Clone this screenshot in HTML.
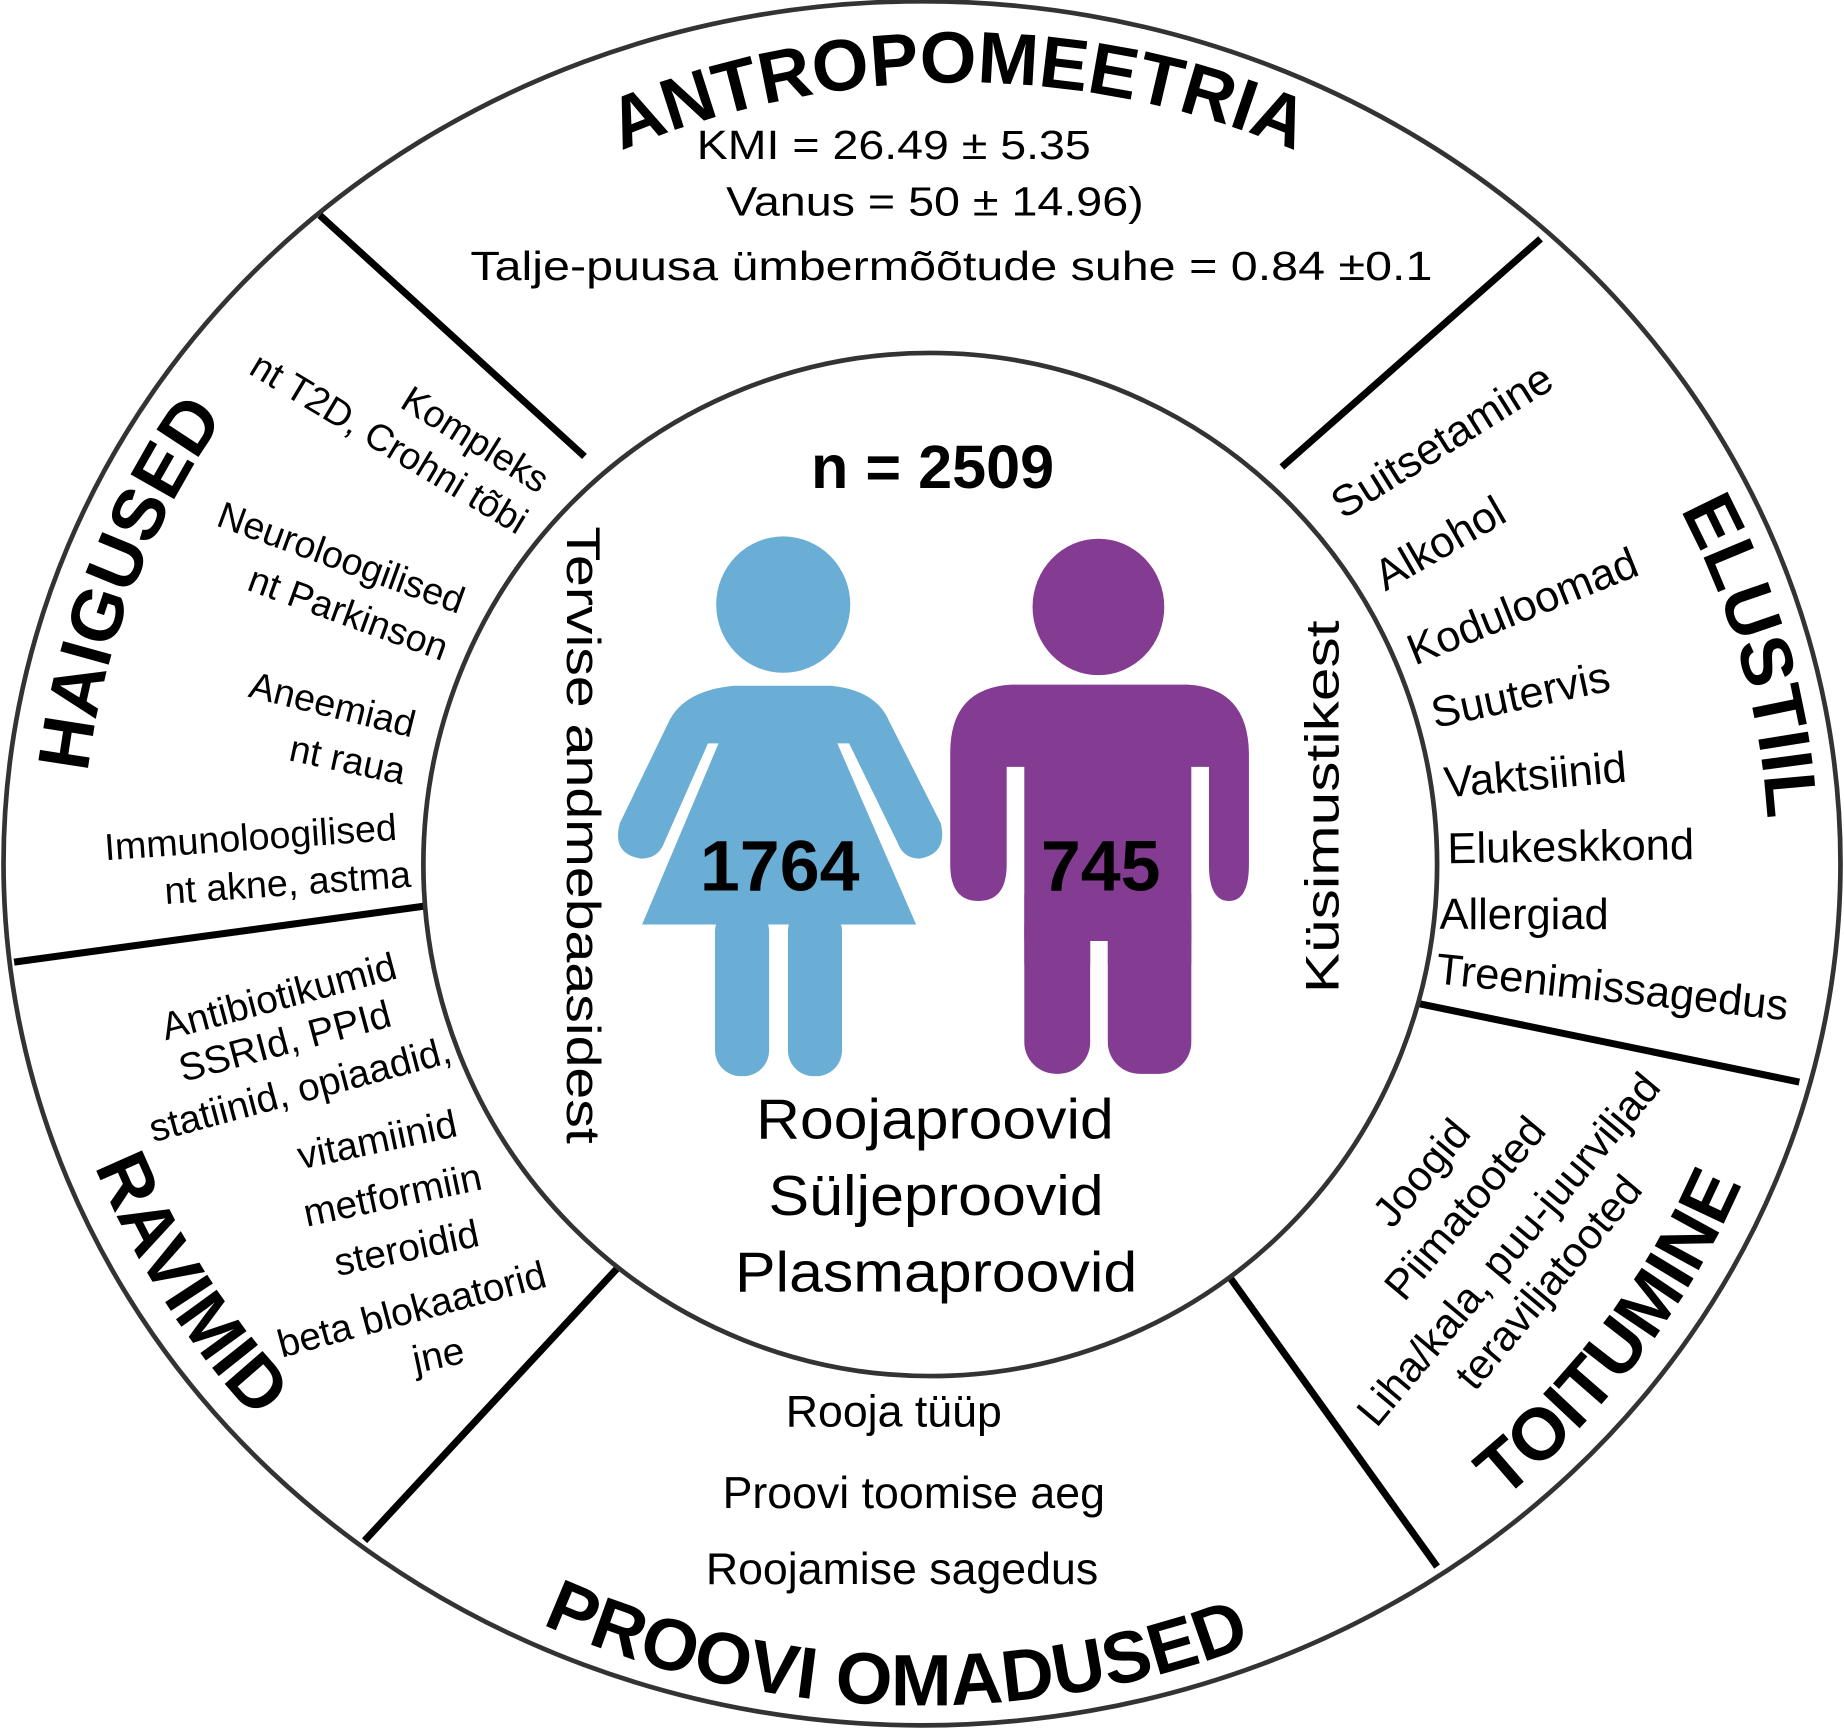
<!DOCTYPE html>
<html><head><meta charset="utf-8"><style>
html,body{margin:0;padding:0;background:#fff;}
svg{display:block;}
text{font-family:"Liberation Sans",Arial,sans-serif;fill:#000;}
.t{font-weight:bold;font-size:62px;}
.h{font-size:32px;}
.e{font-size:37px;}
.r{font-size:33px;}
.f{font-size:36px;}
</style></head><body>
<svg width="1844" height="1729" viewBox="0 0 1568 1470" xmlns="http://www.w3.org/2000/svg">
<defs>
<path id="ptop" d="M115,734 A700,664 0 0 1 1515,734"/>
<path id="pleft" d="M784,1414 A714,680 0 0 1 784,54"/>
<path id="pright" d="M784,59 A720,675 0 0 1 784,1409"/>
<path id="pbot" d="M30,734 A754,716 0 0 0 1538,734"/>
</defs>
<ellipse cx="784" cy="734" rx="781" ry="733" fill="#fff" stroke="#333" stroke-width="4"/>
<g stroke="#000" stroke-width="6">
<line x1="272" y1="183" x2="497" y2="388"/>
<line x1="1310" y1="203" x2="1090" y2="397"/>
<line x1="12" y1="818" x2="364" y2="770"/>
<line x1="1200" y1="852" x2="1530" y2="920"/>
<line x1="310" y1="1310" x2="528" y2="1075"/>
<line x1="1045" y1="1085" x2="1222" y2="1332"/>
</g>
<ellipse cx="791" cy="735" rx="431" ry="435" fill="#fff" stroke="#333" stroke-width="4"/>

<text class="t" font-size="70"><textPath href="#ptop" startOffset="50%" text-anchor="middle">ANTROPOMEETRIA</textPath></text>
<text class="t"><textPath href="#pleft" startOffset="61%" text-anchor="middle">HAIGUSED</textPath></text>
<text class="t"><textPath href="#pright" startOffset="42%" text-anchor="middle">ELUSTIIL</textPath></text>
<text class="t" font-size="60"><textPath href="#pbot" startOffset="49%" text-anchor="middle">PROOVI OMADUSED</textPath></text>
<text class="t" font-size="60"><textPath href="#pbot" startOffset="17%" text-anchor="middle">RAVIMID</textPath></text>
<text class="t" font-size="60"><textPath href="#pbot" startOffset="80.5%" text-anchor="middle">TOITUMINE</textPath></text>

<text x="760" y="135" font-size="35" text-anchor="middle" textLength="335" lengthAdjust="spacingAndGlyphs">KMI = 26.49 ± 5.35</text>
<text x="795" y="183" font-size="35" text-anchor="middle" textLength="355" lengthAdjust="spacingAndGlyphs">Vanus = 50 ± 14.96)</text>
<text x="809" y="238" font-size="35" text-anchor="middle" textLength="818" lengthAdjust="spacingAndGlyphs">Talje-puusa ümbermõõtude suhe = 0.84 ±0.1</text>

<g class="h">
<text transform="translate(458,420) rotate(32)" text-anchor="end">Kompleks</text>
<text transform="translate(440,455) rotate(31)" text-anchor="end">nt T2D, Crohni tõbi</text>
<text transform="translate(390,522) rotate(20)" text-anchor="end">Neuroloogilised</text>
<text transform="translate(376,562) rotate(20)" text-anchor="end">nt Parkinson</text>
<text transform="translate(350,627) rotate(14)" text-anchor="end">Aneemiad</text>
<text transform="translate(342,667) rotate(12)" text-anchor="end">nt raua</text>
<text transform="translate(338,714) rotate(-4)" text-anchor="end">Immunoloogilised</text>
<text transform="translate(350,754) rotate(-4)" text-anchor="end">nt akne, astma</text>
</g>
<g class="r">
<text transform="translate(240,858) rotate(-15)" text-anchor="middle">Antibiotikumid</text>
<text transform="translate(245,896) rotate(-15)" text-anchor="middle">SSRId, PPId</text>
<text transform="translate(258,937) rotate(-15)" text-anchor="middle">statiinid, opiaadid,</text>
<text transform="translate(323,980) rotate(-12)" text-anchor="middle">vitamiinid</text>
<text transform="translate(336,1027) rotate(-12)" text-anchor="middle">metformiin</text>
<text transform="translate(348,1072) rotate(-12)" text-anchor="middle">steroidid</text>
<text transform="translate(353,1124) rotate(-15)" text-anchor="middle">beta blokaatorid</text>
<text transform="translate(375,1163) rotate(-12)" text-anchor="middle">jne</text>
</g>
<g class="e">
<text transform="translate(1142,442) rotate(-32)">Suitsetamine</text>
<text transform="translate(1178,503) rotate(-30)">Alkohol</text>
<text transform="translate(1203,566) rotate(-22)">Koduloomad</text>
<text transform="translate(1220,619) rotate(-12)">Suutervis</text>
<text transform="translate(1229,678) rotate(-5)">Vaktsiinid</text>
<text transform="translate(1231,734) rotate(-1)">Elukeskkond</text>
<text transform="translate(1224,790) rotate(0)">Allergiad</text>
<text transform="translate(1220,836) rotate(6)">Treenimissagedus</text>
</g>
<g class="f">
<text transform="translate(1218,1005) rotate(-50)" text-anchor="middle">Joogid</text>
<text transform="translate(1255,1035) rotate(-50)" text-anchor="middle">Piimatooted</text>
<text transform="translate(1292,1070) rotate(-50)" text-anchor="middle">Liha/kala, puu-juurviljad</text>
<text transform="translate(1326,1098) rotate(-50)" text-anchor="middle">teraviljatooted</text>
</g>
<text x="760" y="1213" font-size="38" text-anchor="middle">Rooja tüüp</text>
<text x="777" y="1282" font-size="38" text-anchor="middle">Proovi toomise aeg</text>
<text x="767" y="1347" font-size="38" text-anchor="middle">Roojamise sagedus</text>

<text x="793" y="415" font-size="52" font-weight="bold" text-anchor="middle">n = 2509</text>
<text transform="translate(482,710) rotate(90)" font-size="40" text-anchor="middle" textLength="525" lengthAdjust="spacingAndGlyphs">Tervise andmebaasidest</text>
<text transform="translate(1138,686) rotate(-90)" font-size="40" text-anchor="middle" textLength="317" lengthAdjust="spacingAndGlyphs">Küsimustikest</text>

<g fill="#6aaed6">
<ellipse cx="666" cy="514" rx="57" ry="58"/>
<path d="M624,583 L707,583 Q745,587 756,613 L800,700 Q806,726 782,730 Q768,730 763,716 L722,632 L712,632 L779,786 L546,786 L611,632 L602,632 L565,716 Q560,730 545,730 Q520,726 527,700 L569,613 Q582,587 624,583 Z"/>
<rect x="608" y="770" width="46" height="145" rx="22"/>
<rect x="670" y="770" width="46" height="145" rx="22"/>
</g>
<g fill="#843b92">
<ellipse cx="934" cy="516" rx="56" ry="58"/>
<path d="M860,582 L1010,582 Q1061,585 1062,640 L1062,735 Q1062,766 1045,766 Q1028,766 1028,735 L1028,652 L1013,652 L1013,800 L871,800 L871,652 L856,652 L856,735 Q856,766 832,766 Q808,766 808,735 L808,640 Q808,585 860,582 Z"/>
<rect x="871" y="760" width="56" height="153" rx="27"/>
<rect x="942" y="760" width="71" height="153" rx="27"/>
<rect x="942" y="760" width="71" height="60"/>
<rect x="871" y="760" width="56" height="60"/>
</g>
<text x="663" y="757" font-size="61" font-weight="bold" text-anchor="middle">1764</text>
<text x="936" y="757" font-size="61" font-weight="bold" text-anchor="middle">745</text>

<text x="795" y="968" font-size="48" text-anchor="middle" textLength="304" lengthAdjust="spacingAndGlyphs">Roojaproovid</text>
<text x="796" y="1033" font-size="48" text-anchor="middle" textLength="285" lengthAdjust="spacingAndGlyphs">Süljeproovid</text>
<text x="796" y="1098" font-size="48" text-anchor="middle" textLength="342" lengthAdjust="spacingAndGlyphs">Plasmaproovid</text>
</svg>
</body></html>
